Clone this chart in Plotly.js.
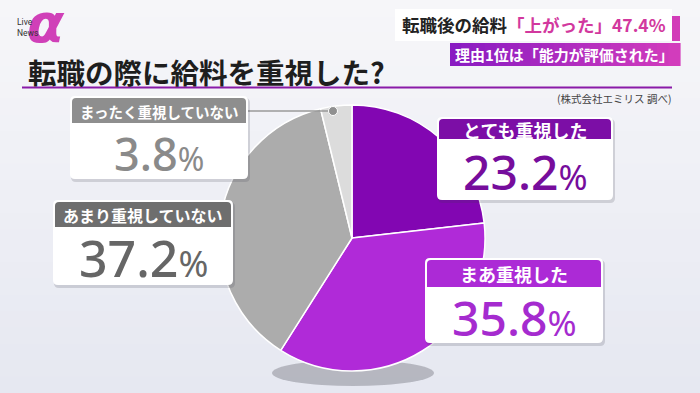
<!DOCTYPE html>
<html>
<head>
<meta charset="utf-8">
<script src="https://cdn.plot.ly/plotly-3.0.1.min.js"></script>
<style>html,body{margin:0;padding:0;background:#eef0f6;}#chart{width:700px;height:393px;}</style>
</head>
<body>
<div id="chart"></div>
<script>
// ---- data ----
const categories = ['とても重視した', 'まあ重視した', 'あまり重視していない', 'まったく重視していない'];
const values = [23.2, 35.8, 37.2, 3.8];
const titleText = '転職の際に給料を重視した?';
const sourceText = '(株式会社エミリス 調べ)';
const headlineBlack = '転職後の給料';
const headlinePink = '「上がった」47.4%';
const subHeadline = '理由1位は「能力が評価された」';

// ---- styles / layout helpers ----
const W = 700, H = 393;
const X = p => p / W;
const Y = p => 1 - p / H;
const sliceColors = ['#8206b2', '#b02ad8', '#acacac', '#dcdcdc'];
const headColors = ['#7c0ea6', '#ac2ad6', '#6e6e6e', '#8e8e8e'];
const numColors = ['#760d9c', '#a52bcf', '#666666', '#8a8a8a'];
const boxes = [
  {x0: 437, y0: 117, x1: 613, y1: 200, hb: 139, numSize: 48, headSize: 18},
  {x0: 425, y0: 258, x1: 603, y1: 343, hb: 287, numSize: 48, headSize: 18},
  {x0: 53, y0: 200, x1: 233, y1: 285, hb: 227, numSize: 50, headSize: 16},
  {x0: 70, y0: 96, x1: 248, y1: 179, hb: 123, numSize: 45, headSize: 14.5}
];

function rrect(x0, y0, x1, y1, r, top, bottom) {
  const P = (x, y) => X(x).toFixed(5) + ',' + Y(y).toFixed(5);
  const rt = top ? r : 0, rb = bottom ? r : 0;
  return 'M' + P(x0 + rt, y0) + ' L' + P(x1 - rt, y0) + ' Q' + P(x1, y0) + ' ' + P(x1, y0 + rt) +
    ' L' + P(x1, y1 - rb) + ' Q' + P(x1, y1) + ' ' + P(x1 - rb, y1) +
    ' L' + P(x0 + rb, y1) + ' Q' + P(x0, y1) + ' ' + P(x0, y1 - rb) +
    ' L' + P(x0, y0 + rt) + ' Q' + P(x0, y0) + ' ' + P(x0 + rt, y0) + ' Z';
}
function lerpColor(a, b, t) {
  const pa = [1, 3, 5].map(i => parseInt(a.substr(i, 2), 16));
  const pb = [1, 3, 5].map(i => parseInt(b.substr(i, 2), 16));
  return 'rgb(' + pa.map((v, i) => Math.round(v + (pb[i] - v) * t)).join(',') + ')';
}

const shapes = [];
const annotations = [];

// background vertical gradient
const bgN = 24;
for (let i = 0; i < bgN; i++) {
  shapes.push({type: 'rect', xref: 'paper', yref: 'paper', layer: 'below',
    x0: 0, x1: 1, y0: Y((i + 1) * H / bgN + 1), y1: Y(i * H / bgN),
    fillcolor: lerpColor('#f6f6f9', '#e6e8f1', i / (bgN - 1)), line: {width: 0}});
}
// pie shadow
shapes.push({type: 'circle', xref: 'paper', yref: 'paper', layer: 'below',
  x0: X(272), x1: X(434), y0: Y(386), y1: Y(360), fillcolor: 'rgba(70,70,80,0.3)', line: {width: 0}});

// top-right headline boxes
shapes.push({type: 'rect', xref: 'paper', yref: 'paper', x0: X(395), x1: X(672), y0: Y(41), y1: Y(9),
  fillcolor: '#ffffff', line: {width: 0}});
shapes.push({type: 'rect', xref: 'paper', yref: 'paper', x0: X(672), x1: X(680), y0: Y(41), y1: Y(16),
  fillcolor: '#d23cb8', line: {width: 0}});
const gN = 20;
for (let i = 0; i < gN; i++) {
  const xa = 450 + (230 / gN) * i, xb = 450 + (230 / gN) * (i + 1) + 0.6;
  shapes.push({type: 'rect', xref: 'paper', yref: 'paper', x0: X(xa), x1: X(xb), y0: Y(66), y1: Y(43),
    fillcolor: lerpColor('#8a1cc2', '#d23cbc', i / (gN - 1)), line: {width: 0}});
}
annotations.push({xref: 'paper', yref: 'paper', x: X(668), y: Y(25), xanchor: 'right', yanchor: 'middle',
  showarrow: false, text: headlineBlack + '<span style="color:#d2389e">' + headlinePink + '</span>',
  font: {family: 'Noto Sans CJK JP', size: 17.5, color: '#222222', weight: 'bold'}});
annotations.push({xref: 'paper', yref: 'paper', x: X(676), y: Y(54.5), xanchor: 'right', yanchor: 'middle',
  showarrow: false, text: subHeadline,
  font: {family: 'Noto Sans CJK JP', size: 15, color: '#ffffff', weight: 'bold'}});

// logo
annotations.push({xref: 'paper', yref: 'paper', x: X(46), y: Y(24), xanchor: 'center', yanchor: 'middle',
  showarrow: false, text: '<i>α</i>', font: {family: 'DejaVu Sans', size: 54, color: '#d040b8', weight: 'bold'}});
annotations.push({xref: 'paper', yref: 'paper', x: X(15), y: Y(27), xanchor: 'left', yanchor: 'middle',
  showarrow: false, text: 'Live<br>News', align: 'left',
  font: {family: 'Roboto', size: 8.5, color: '#333333'}});

// title, underline, source
annotations.push({xref: 'paper', yref: 'paper', x: X(26), y: Y(71), xanchor: 'left', yanchor: 'middle',
  showarrow: false, text: titleText, font: {family: 'Noto Sans CJK JP', size: 28.5, color: '#1e1e1e', weight: 'bold'}});
shapes.push({type: 'line', xref: 'paper', yref: 'paper', x0: X(22), x1: X(672), y0: Y(87.5), y1: Y(87.5),
  line: {color: '#8a1aa8', width: 2}});
annotations.push({xref: 'paper', yref: 'paper', x: X(673), y: Y(98), xanchor: 'right', yanchor: 'middle',
  showarrow: false, text: sourceText, font: {family: 'Noto Sans CJK JP', size: 10.5, color: '#444444'}});

// leader line for the small slice
shapes.push({type: 'line', xref: 'paper', yref: 'paper', x0: X(248), x1: X(333), y0: Y(111), y1: Y(111),
  line: {color: '#9a9a9a', width: 1.5}});
shapes.push({type: 'circle', xref: 'paper', yref: 'paper', x0: X(328.5), x1: X(337.5), y0: Y(115.5), y1: Y(106.5),
  fillcolor: '#909090', line: {color: '#ffffff', width: 1}});

// label boxes
categories.forEach((c, i) => {
  const b = boxes[i];
  shapes.push({type: 'path', xref: 'paper', yref: 'paper', path: rrect(b.x0 + 1, b.y0 + 2, b.x1 + 2, b.y1 + 3, 5, true, true),
    fillcolor: 'rgba(60,60,80,0.18)', line: {width: 0}});
  shapes.push({type: 'path', xref: 'paper', yref: 'paper', path: rrect(b.x0, b.y0, b.x1, b.y1, 5, true, true),
    fillcolor: '#ffffff', line: {width: 0}});
  shapes.push({type: 'path', xref: 'paper', yref: 'paper', path: rrect(b.x0 + 2, b.y0 + 2, b.x1 - 2, b.hb, 4, true, false),
    fillcolor: headColors[i], line: {width: 0}});
  annotations.push({xref: 'paper', yref: 'paper', x: X((b.x0 + b.x1) / 2), y: Y((b.y0 + 2 + b.hb) / 2 + 0.5),
    xanchor: 'center', yanchor: 'middle', showarrow: false, text: c,
    font: {family: 'Noto Sans CJK JP', size: b.headSize, color: '#ffffff', weight: 'bold'}});
  annotations.push({xref: 'paper', yref: 'paper', x: X((b.x0 + b.x1) / 2), y: Y((b.hb + b.y1) / 2 + 2),
    xanchor: 'center', yanchor: 'middle', showarrow: false,
    text: values[i].toFixed(1) + '<span style="font-size:' + Math.round(b.numSize * 0.72) + 'px;font-weight:400">%</span>',
    font: {family: 'Noto Sans', size: b.numSize, color: numColors[i], weight: 500}});
});

const trace = {
  type: 'pie', labels: categories, values: values, sort: false, direction: 'clockwise', rotation: 0,
  marker: {colors: sliceColors, line: {color: '#ffffff', width: 1.5}},
  textinfo: 'none', hoverinfo: 'none', showlegend: false,
  domain: {x: [X(352 - 133), X(352 + 133)], y: [Y(238 + 133), Y(238 - 133)]}
};

const layout = {
  width: W, height: H, margin: {l: 0, r: 0, t: 0, b: 0},
  paper_bgcolor: '#eef0f6', plot_bgcolor: 'rgba(0,0,0,0)',
  shapes: shapes, annotations: annotations, showlegend: false
};
Plotly.newPlot('chart', [trace], layout, {displayModeBar: false, staticPlot: true});
</script>
</body>
</html>
